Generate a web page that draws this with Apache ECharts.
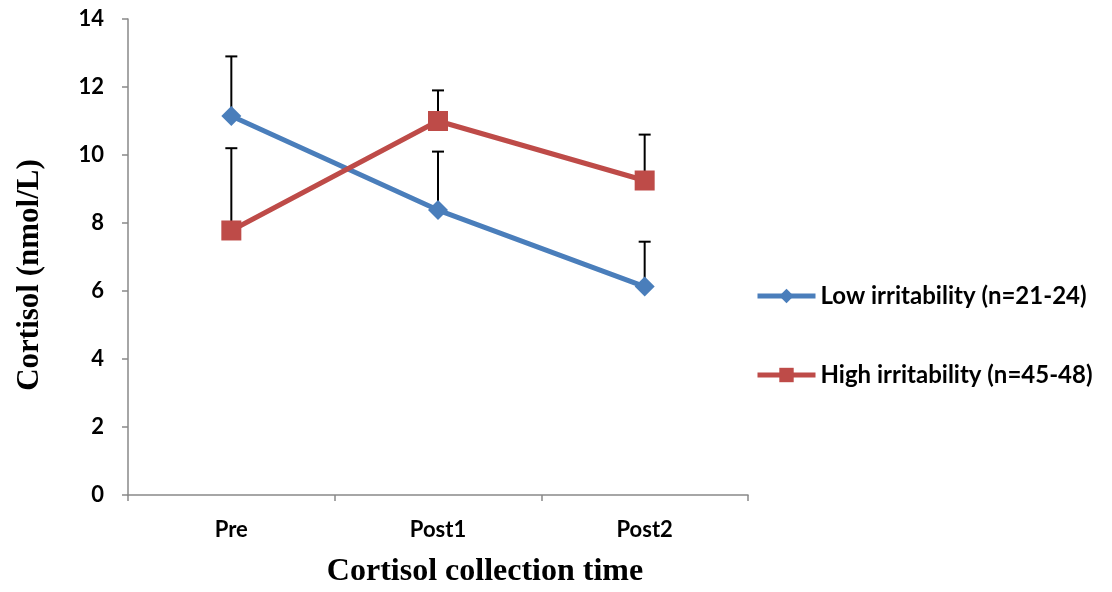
<!DOCTYPE html>
<html><head><meta charset="utf-8">
<script src="https://cdn.jsdelivr.net/npm/echarts@6/dist/echarts.min.js"></script>
<style>html,body{margin:0;padding:0;background:#fff}#c{width:1112px;height:592px}</style>
</head><body><div id="c"></div>
<script>
var categories = ['Pre', 'Post1', 'Post2'];
var lowName = 'Low irritability (n=21-24)';
var highName = 'High irritability (n=45-48)';
var lowMean = [11.15, 8.38, 6.13];
var lowUpper = [12.9, 10.1, 7.45];
var highMean = [7.78, 11.0, 9.25];
var highUpper = [10.2, 11.9, 10.6];
var yTicks = [0, 2, 4, 6, 8, 10, 12, 14];

var chart = echarts.init(document.getElementById('c'));
function errData(mean, upper) {
  return mean.map(function (m, i) { return [i, m, upper[i]]; });
}
function errRender(params, api) {
  var i = api.value(0);
  var p0 = api.coord([i, api.value(1)]);
  var p1 = api.coord([i, api.value(2)]);
  var hw = 6;
  var st = { stroke: '#000', lineWidth: 2 };
  return {
    type: 'group',
    children: [
      { type: 'line', shape: { x1: p0[0], y1: p0[1], x2: p1[0], y2: p1[1] }, style: st },
      { type: 'line', shape: { x1: p1[0] - hw, y1: p1[1], x2: p1[0] + hw, y2: p1[1] }, style: st }
    ]
  };
}
var labelFont = 'Lato, "Open Sans", sans-serif';
chart.setOption({
  animation: false,
  grid: { left: 128, top: 19, right: 364, bottom: 97 },
  xAxis: {
    type: 'category', data: categories, boundaryGap: true,
    axisLine: { lineStyle: { color: '#898989', width: 1.5 } },
    axisTick: { show: true, length: 6, lineStyle: { color: '#898989', width: 1.5 } },
    axisLabel: { margin: 24, color: '#000', fontFamily: labelFont, fontWeight: 'bold', fontSize: 22 }
  },
  yAxis: {
    type: 'value', min: 0, max: 14, interval: 2,
    axisLine: { show: true, lineStyle: { color: '#898989', width: 1.5 } },
    axisTick: { show: true, length: 6, lineStyle: { color: '#898989', width: 1.5 } },
    splitLine: { show: false },
    axisLabel: { margin: 24, color: '#000', fontFamily: labelFont, fontWeight: 'bold', fontSize: 22,
      formatter: function (v) { return yTicks.indexOf(v) >= 0 ? String(v) : ''; } }
  },
  legend: {
    orient: 'vertical', left: 755, top: 284, itemGap: 55, padding: 0,
    itemWidth: 58, itemHeight: 18,
    data: [lowName, highName],
    lineStyle: { width: 5 },
    textStyle: { color: '#000', fontFamily: labelFont, fontWeight: 'bold', fontSize: 24 }
  },
  graphic: [
    { type: 'text', x: 30, y: 275, rotation: Math.PI / 2, style: { text: 'Cortisol (nmol/L)', fill: '#000',
      font: 'bold 31px "Liberation Serif", "Times New Roman", serif', textAlign: 'center', textVerticalAlign: 'middle' } },
    { type: 'text', x: 485, y: 572, style: { text: 'Cortisol collection time', fill: '#000',
      font: 'bold 32px "Liberation Serif", "Times New Roman", serif', textAlign: 'center', textVerticalAlign: 'middle' } }
  ],
  series: [
    { type: 'custom', name: 'errLow', renderItem: errRender, data: errData(lowMean, lowUpper), z: 1, silent: true },
    { type: 'custom', name: 'errHigh', renderItem: errRender, data: errData(highMean, highUpper), z: 1, silent: true },
    { type: 'line', name: lowName, data: lowMean, z: 3, symbol: 'diamond', symbolSize: 20,
      lineStyle: { color: '#4A7EBB', width: 5 }, itemStyle: { color: '#4A7EBB' } },
    { type: 'line', name: highName, data: highMean, z: 3, symbol: 'rect', symbolSize: 20,
      lineStyle: { color: '#BE4B48', width: 5 }, itemStyle: { color: '#BE4B48' } }
  ]
});
</script></body></html>
